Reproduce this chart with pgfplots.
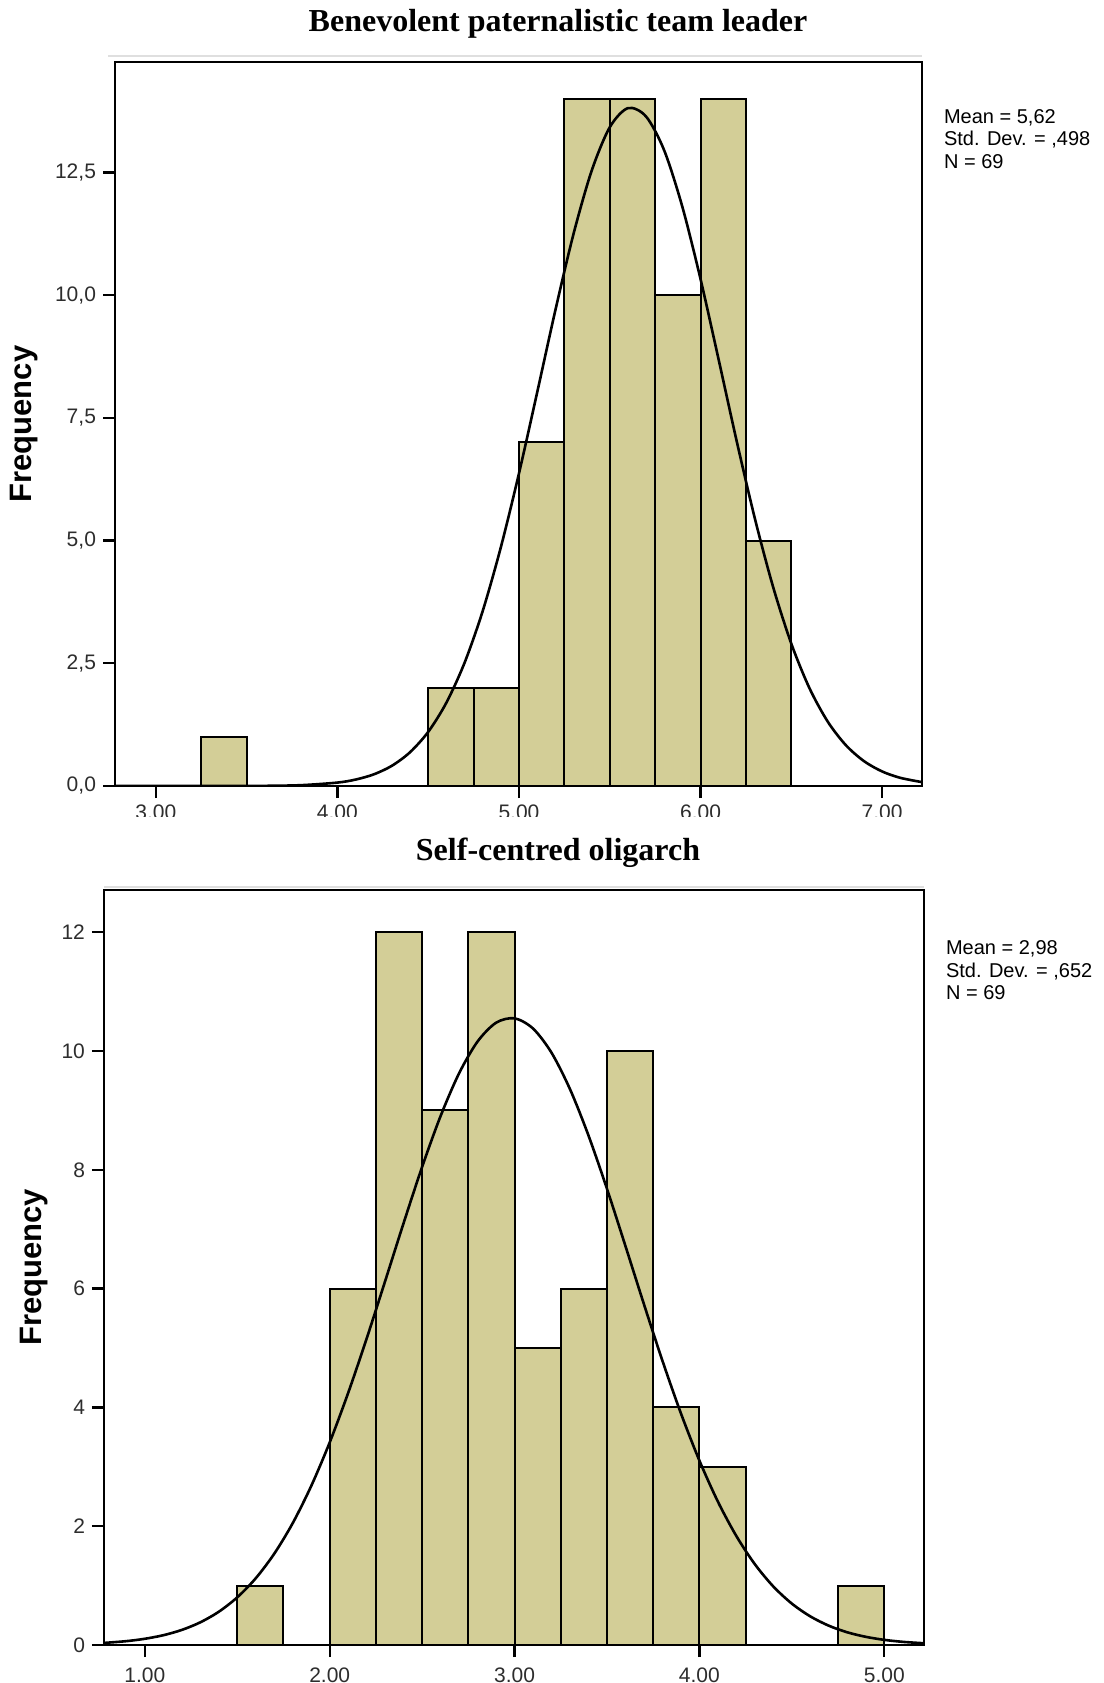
\documentclass[border=0pt]{standalone}
\usepackage{fontspec}
\setmainfont{Liberation Sans}
\newfontfamily\titlefont{Liberation Serif}
\usepackage{pgfplots}
\pgfplotsset{compat=1.18}

\definecolor{barfill}{RGB}{211,206,151}
\definecolor{ticktext}{RGB}{45,45,45}

\pgfplotsset{
  spss/.style={
    scale only axis,
    anchor=north west,
    axis line style={black, line width=1pt},
    tick pos=left,
    tick align=outside,
    major tick length=6pt,
    tick style={black, line width=1.2pt},
    ticklabel style={font=\fontsize{10.5}{12}\selectfont, text=ticktext},
    /pgf/number format/assume math mode=true,
    ylabel={Frequency},
    ylabel style={rotate=0, anchor=center, font=\fontsize{15.5}{17}\selectfont\bfseries},
    axis on top,
  },
  hist/.style={ybar interval, fill=barfill, draw=black, line width=1pt},
  curve/.style={black, line width=1.3pt, smooth},
}

\begin{document}
\begin{tikzpicture}
\useasboundingbox (0,0) rectangle (552pt,-841.5pt);

% ---- top chart ----
\node[font=\titlefont\fontsize{16}{18}\selectfont\bfseries] at (279pt,-11.8pt) {Benevolent paternalistic team leader};
\draw[gray!25, line width=1pt] (54pt,-28pt) -- (461pt,-28pt);

\begin{axis}[spss,
  at={(57.5pt,-31pt)}, width=403.5pt, height=362pt,
  xmin=2.775, xmax=7.22, ymin=0, ymax=14.75,
  xtick={3,4,5,6,7}, xticklabels={3.00,4.00,5.00,6.00,7.00},
  ytick={0,2.5,5,7.5,10,12.5},
  yticklabels={{0,0},{2,5},{5,0},{7,5},{10,0},{12,5}},
  ylabel style={at={(axis description cs:-0.1128,0.5)}},
]
\addplot[hist] coordinates {
  (3.25,1) (3.5,0) (4.5,2) (4.75,2) (5.0,7) (5.25,14) (5.5,14)
  (5.75,10) (6.0,14) (6.25,5) (6.5,0)
};
\addplot[curve] coordinates {
  (2.78,0) (3.4,0.0007) (3.6,0.0037) (3.8,0.0173) (4.0,0.0697) (4.1,0.131)
  (4.2,0.237) (4.3,0.412) (4.4,0.688) (4.5,1.102) (4.6,1.696) (4.7,2.507)
  (4.8,3.561) (4.9,4.861) (5.0,6.367) (5.1,8.013) (5.2,9.684) (5.3,11.24)
  (5.4,12.53) (5.5,13.42) (5.6,13.81) (5.7,13.64) (5.8,12.95)
  (5.9,11.80) (6.0,10.33) (6.1,8.685) (6.2,7.014) (6.3,5.441) (6.4,4.054)
  (6.5,2.901) (6.6,1.994) (6.7,1.316) (6.8,0.834) (6.9,0.508) (7.0,0.297)
  (7.1,0.167) (7.22,0.0792)
};
\end{axis}

\node[anchor=base west, font=\fontsize{10}{12}\selectfont] at (468.5pt,-61.5pt) {Mean = 5,62};
\node[anchor=base west, font=\fontsize{10}{12}\selectfont] at (468.5pt,-72.5pt) {Std. Dev. = ,498};
\node[anchor=base west, font=\fontsize{10}{12}\selectfont] at (468.5pt,-84pt) {N = 69};

% crop strip between the two screenshots
\fill[white] (0pt,-408.5pt) rectangle (552pt,-418pt);

% ---- bottom chart ----
\node[font=\titlefont\fontsize{16}{18}\selectfont\bfseries] at (279pt,-426.5pt) {Self-centred oligarch};
\draw[gray!25, line width=1pt] (52pt,-443.5pt) -- (462pt,-443.5pt);

\begin{axis}[spss,
  at={(52pt,-445pt)}, width=410pt, height=377.5pt,
  xmin=0.779, xmax=5.215, ymin=0, ymax=12.71,
  xtick={1,2,3,4,5}, xticklabels={1.00,2.00,3.00,4.00,5.00},
  x tick label style={yshift=-2pt},
  ytick={0,2,4,6,8,10,12},
  yticklabels={0,2,4,6,8,10,12},
  ylabel style={at={(axis description cs:-0.0854,0.5)}},
]
\addplot[hist] coordinates {
  (1.5,1) (1.75,0) (2.0,6) (2.25,12) (2.5,9) (2.75,12) (3.0,5) (3.25,6)
  (3.5,10) (3.75,4) (4.0,3) (4.25,0) (4.75,1) (5.0,0)
};
\addplot[curve] coordinates {
  (0.78,0.0356) (0.9,0.0651) (1.0,0.105) (1.1,0.165) (1.2,0.254) (1.3,0.382)
  (1.4,0.560) (1.5,0.803) (1.6,1.124) (1.7,1.537) (1.8,2.052) (1.9,2.677)
  (2.0,3.411) (2.1,4.245) (2.2,5.160) (2.3,6.127) (2.4,7.105) (2.5,8.049)
  (2.6,8.906) (2.7,9.625) (2.8,10.160) (2.9,10.476) (3.0,10.550)
  (3.1,10.378) (3.2,9.971) (3.3,9.357) (3.4,8.577) (3.5,7.680) (3.6,6.716)
  (3.7,5.737) (3.8,4.786) (3.9,3.900) (4.0,3.105) (4.1,2.414) (4.2,1.834)
  (4.3,1.360) (4.4,0.985) (4.5,0.697) (4.6,0.482) (4.7,0.325) (4.8,0.214)
  (4.9,0.138) (5.0,0.0869) (5.1,0.0534) (5.215,0.0297)
};
\end{axis}

\node[anchor=base west, font=\fontsize{10}{12}\selectfont] at (469.5pt,-477pt) {Mean = 2,98};
\node[anchor=base west, font=\fontsize{10}{12}\selectfont] at (469.5pt,-488.5pt) {Std. Dev. = ,652};
\node[anchor=base west, font=\fontsize{10}{12}\selectfont] at (469.5pt,-499.5pt) {N = 69};
\end{tikzpicture}
\end{document}
